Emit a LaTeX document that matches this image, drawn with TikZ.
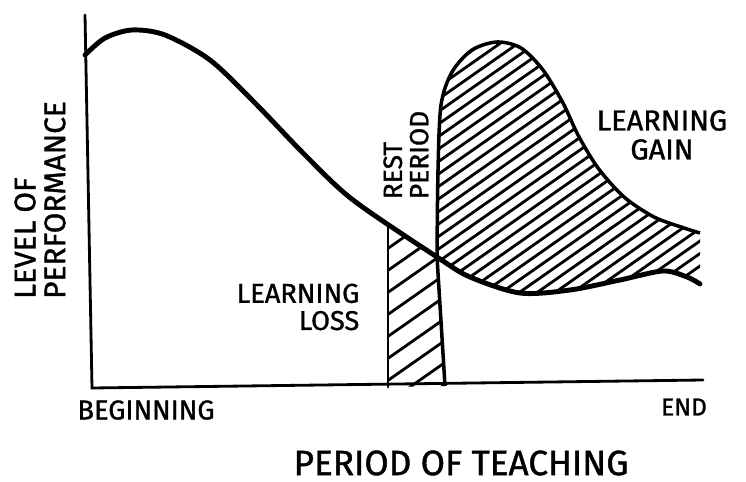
\documentclass[tikz,border=0pt]{standalone}
\usepackage{fontspec}
\setmainfont{Fira Sans}
\newfontfamily\handfont{Fira Sans}[FakeBold=1.2]
\begin{document}
\begin{tikzpicture}[x=0.02cm,y=-0.02cm,
    label text/.style={inner sep=0pt,font=\handfont\fontsize{#1}{#1}\selectfont},
    hatch/.style={line width=1.6pt},
    axis/.style={line width=1.6pt,line cap=round},
    curve/.style={line width=2.8pt,line cap=round,line join=round}]
  \useasboundingbox (0,0) rectangle (746,482);
  \coordinate (ytop) at (85,15);
  \coordinate (origin) at (92,388);
  \coordinate (xend) at (703,380);
  \coordinate (restbot) at (388,387);
  \coordinate (resttop) at (388,226);
  \coordinate (cross) at (437,257);
  \coordinate (gainbot) at (445,386);
  \coordinate (gainend) at (700,285);
  \begin{scope}
    \clip (restbot) -- (resttop) -- (cross) -- (gainbot) -- cycle;
    \foreach \k in {0,...,10}
      \draw[hatch] (380,232+22*\k) -- +(80,-56);
  \end{scope}
  \begin{scope}
    \clip plot[smooth] coordinates {(437,257) (438,170) (441,105) (452,72) (472,50) (497,42) (521,48) (543,70) (563,103) (578,135) (598,168) (624,197) (654,217) (684,228) (700,233)}
      -- (gainend) -- plot[smooth] coordinates {(700,285) (687,277) (663,271) (620,280) (570,290) (520,293) (470,277) (437,257)} -- cycle;
    \foreach \k in {0,...,30}
      \draw[hatch] (430,80+12.5*\k) -- +(300,-210);
  \end{scope}
  \draw[axis] (ytop) -- (origin) -- (xend);
  \draw[axis] (restbot) -- (resttop);
  \draw[line width=2pt,line join=round] (gainbot) -- (cross) -- plot[smooth] coordinates {(437,257) (438,170) (441,105) (452,72) (472,50) (497,42) (521,48) (543,70) (563,103) (578,135) (598,168) (624,197) (654,217) (684,228) (700,233)};
  \draw[curve] plot[smooth] coordinates {(85,55) (105,38) (132,30) (165,35) (210,60) (255,103) (305,155) (353,200) (437,257) (470,277) (520,293) (570,290) (620,280) (663,271) (687,277) (700,284)};
  \draw
    (40,200) node[label text=17,rotate=90,align=left] (perf) {LEVEL OF\\PERFORMANCE}
    (406,155) node[label text=15,rotate=90,align=left] (rest) {REST\\PERIOD}
    (298,307) node[label text=15.5,align=right] (loss) {LEARNING\\LOSS}
    (662,135) node[label text=16.5,align=center] (gain) {LEARNING\\GAIN}
    (146,410) node[label text=15.5] (begin) {BEGINNING}
    (684,407) node[label text=14] (end) {END}
    (461,463) node[label text=20] (period) {PERIOD OF TEACHING};
\end{tikzpicture}
\end{document}
